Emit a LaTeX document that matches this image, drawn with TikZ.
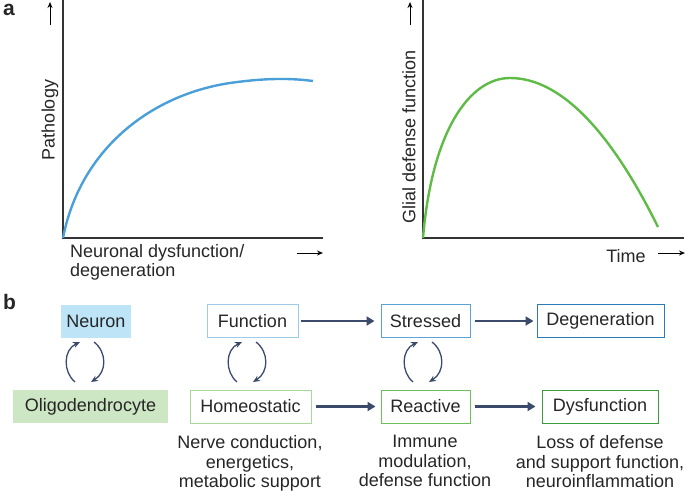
\documentclass[tikz,border=0pt]{standalone}
\usepackage{fontspec}
\setmainfont{Liberation Sans}
\usetikzlibrary{arrows.meta}
\definecolor{navy}{HTML}{3B4A6B}
\definecolor{b1}{HTML}{9DCBEA}\definecolor{b2}{HTML}{5AA3D6}\definecolor{b3}{HTML}{2B7BB9}
\definecolor{g1}{HTML}{A8D89A}\definecolor{g2}{HTML}{6CC05A}\definecolor{g3}{HTML}{3A9E3A}
\definecolor{nfill}{HTML}{BDE4F7}\definecolor{ofill}{HTML}{CDE6C3}
\definecolor{bluec}{HTML}{4A9FD8}\definecolor{greenc}{HTML}{5DBB46}
\begin{document}
\begin{tikzpicture}[x=1pt,y=-1pt,
  every node/.style={font=\fontsize{18}{21}\selectfont, text=black!85},
  box/.style={draw, line width=1pt, minimum height=33pt, inner sep=0pt},
  flow/.style={navy, line width=2.4pt, -{Triangle[length=8pt,width=9pt]}},
  cyc/.style={navy, line width=1.3pt, -{Stealth[length=7pt,width=6pt]}},
  ax/.style={black!80, line width=1.1pt},
  small/.style={-{Stealth[length=6pt,width=5pt]}, black, line width=1pt},
  note/.style={align=center, anchor=north, font=\fontsize{18}{19.5}\selectfont}]
\useasboundingbox (0,0) rectangle (685,490);
% panel a
\node[font=\bfseries\fontsize{21}{21}\selectfont, anchor=north west, inner sep=0] (la) at (3,4) {a};
\coordinate (o1) at (63,238); \coordinate (y1) at (63,0); \coordinate (x1) at (323,238);
\draw[ax] (y1) -- (o1) -- (x1);
\coordinate (u1a) at (50,25); \coordinate (u1b) at (50,2);
\draw[small] (u1a) -- (u1b);
\node[rotate=90] (pat) at (50,120) {Pathology};
\node[anchor=north west, align=left, inner sep=0, font=\fontsize{18}{19.5}\selectfont] (ndl) at (70,244) {Neuronal dysfunction/\\degeneration};
\coordinate (r1a) at (297,253); \coordinate (r1b) at (323,253);
\draw[small] (r1a) -- (r1b);
\draw[bluec, line width=2.4pt] (o1) .. controls (80,150) and (150,95) .. (230,83) .. controls (265,78) and (290,78) .. (313,81);
\coordinate (o2) at (423,238); \coordinate (y2) at (423,0); \coordinate (x2) at (684,238);
\draw[ax] (y2) -- (o2) -- (x2);
\coordinate (u2a) at (410,25); \coordinate (u2b) at (410,2);
\draw[small] (u2a) -- (u2b);
\node[rotate=90] (gdf) at (409,137) {Glial defense function};
\node (time) at (626,256) {Time};
\coordinate (r2a) at (658,253); \coordinate (r2b) at (685,253);
\draw[small] (r2a) -- (r2b);
\draw[greenc, line width=2.4pt] (o2) .. controls (432,130) and (470,78) .. (510,78) .. controls (560,78) and (610,130) .. (658,227);
% panel b
\node[font=\bfseries\fontsize{21}{21}\selectfont, anchor=north west, inner sep=0] (lb) at (3,294) {b};
\node[box, draw=none, fill=nfill, minimum width=70pt] (neu) at (96,321) {Neuron};
\node[box, draw=none, fill=ofill, minimum width=155pt] (oli) at (90.5,406.5) {Oligodendrocyte};
\node[box, draw=b1, minimum width=91pt] (fun) at (252.5,321) {Function};
\node[box, draw=b2, minimum width=89pt] (str) at (425.5,321) {Stressed};
\node[box, draw=b3, minimum width=127pt] (deg) at (600.5,321) {Degeneration};
\node[box, draw=g1, minimum width=121pt] (hom) at (250.5,406.5) {Homeostatic};
\node[box, draw=g2, minimum width=89pt] (rea) at (425.5,406.5) {Reactive};
\node[box, draw=g3, minimum width=116pt] (dys) at (600,406.5) {Dysfunction};
\draw[flow] ([xshift=2pt]fun.east) -- ([xshift=-6pt]str.west);
\draw[flow] ([xshift=4pt]str.east) -- ([xshift=-3pt]deg.west);
\draw[flow] ([xshift=4pt]hom.east) -- ([xshift=-5pt]rea.west);
\draw[flow] ([xshift=4pt]rea.east) -- ([xshift=-6pt]dys.west);
\foreach \cx in {87,249,425}{
  \coordinate (la\cx) at (\cx-12,382); \coordinate (lb\cx) at (\cx-7,342);
  \coordinate (ra\cx) at (\cx+7,342); \coordinate (rb\cx) at (\cx+4,382);
  \draw[cyc] (la\cx) .. controls (\cx-24,372) and (\cx-24,350) .. (lb\cx);
  \draw[cyc] (ra\cx) .. controls (\cx+20,352) and (\cx+20,372) .. (rb\cx);
}
\node[note] (t1) at (250,432) {Nerve conduction,\\energetics,\\metabolic support};
\node[note] (t2) at (425,432) {Immune\\modulation,\\defense function};
\node[note] (t3) at (600,432) {Loss of defense\\and support function,\\neuroinflammation};
\end{tikzpicture}
\end{document}
